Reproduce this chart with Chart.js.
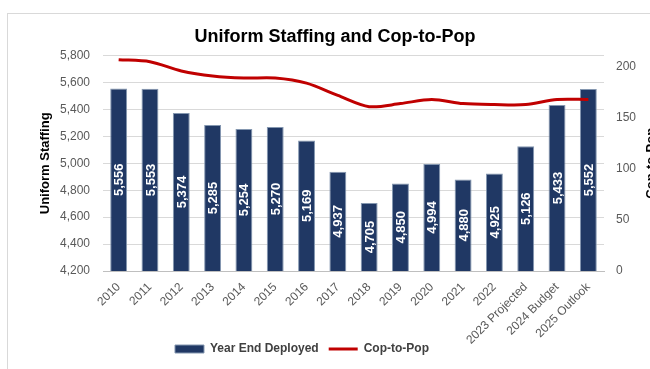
<!DOCTYPE html>
<html>
<head>
<meta charset="utf-8">
<script src="https://cdn.jsdelivr.net/npm/chart.js@4"></script>
<style>
    html, body { margin: 0; padding: 0; background: #fff; overflow: hidden; width: 650px; height: 369px; }
    #frame { position: absolute; left: 7px; top: 13px; width: 700px; height: 400px; border: 1px solid #d9d9d9; }
    #staffingChart { position: absolute; left: 0; top: 0; }
</style>
</head>
<body>
<div id="frame"></div>
<canvas id="staffingChart" width="660" height="369"></canvas>
<script>
// Chart data
const years = ['2010', '2011', '2012', '2013', '2014', '2015', '2016', '2017', '2018',
    '2019', '2020', '2021', '2022', '2023 Projected', '2024 Budget', '2025 Outlook'];
const yearEndDeployed = [5556, 5553, 5374, 5285, 5254, 5270, 5169, 4937, 4705,
    4850, 4994, 4880, 4925, 5126, 5433, 5552];
const copToPop = [207, 205, 196, 191, 189, 189, 184, 172, 161,
    164, 168, 164, 163, 163, 168, 168];
const staffingTicks = [4200, 4400, 4600, 4800, 5000, 5200, 5400, 5600, 5800];
const ratioTicks = [0, 50, 100, 150, 200];

const FONT = 'Liberation Sans';
const GREY = '#595959';

// Format numbers with thousands separator
function formatNumber(n) {
    return n.toLocaleString('en-US');
}

// Draw the value inside each bar, rotated
const barValueLabels = {
    id: 'barValueLabels',
    afterDatasetsDraw(chart) {
        const ctx = chart.ctx;
        const meta = chart.getDatasetMeta(0);
        const bottom = chart.chartArea.bottom;
        ctx.save();
        ctx.fillStyle = '#ffffff';
        ctx.font = 'bold 13px ' + FONT;
        ctx.textAlign = 'center';
        ctx.textBaseline = 'middle';
        meta.data.forEach((bar, i) => {
            const mid = (bar.y + Math.min(bar.base, bottom)) / 2;
            ctx.save();
            ctx.translate(bar.x, mid);
            ctx.rotate(-Math.PI / 2);
            ctx.fillText(formatNumber(yearEndDeployed[i]), 0, 1);
            ctx.restore();
        });
        ctx.restore();
    }
};

// Secondary axis title reads bottom-to-top like the primary one
const rightAxisTitle = {
    id: 'rightAxisTitle',
    afterDraw(chart) {
        const ctx = chart.ctx;
        const area = chart.chartArea;
        ctx.save();
        ctx.fillStyle = '#000000';
        ctx.font = 'bold 13px ' + FONT;
        ctx.textAlign = 'center';
        ctx.textBaseline = 'middle';
        ctx.translate(chart.scales.y1.right - 9, (area.top + area.bottom) / 2);
        ctx.rotate(-Math.PI / 2);
        ctx.fillText('Cop-to-Pop', 0, 0);
        ctx.restore();
    }
};

// Legend sits a bit left of centre; long category labels may run into the legend band
const layoutTweaks = {
    id: 'layoutTweaks',
    afterLayout(chart) {
        chart.legend.left -= 33;
        chart.legend.right -= 33;
        chart.scales.x.bottom += 30;
    }
};

const data = {
    labels: years,
    datasets: [
        {
            type: 'bar',
            label: 'Year End Deployed',
            data: yearEndDeployed,
            backgroundColor: '#203864',
            borderColor: '#8497b0',
            borderWidth: 1,
            borderSkipped: 'bottom',
            barPercentage: 0.54,
            categoryPercentage: 1,
            pointStyle: 'rect',
            yAxisID: 'y',
            order: 2
        },
        {
            type: 'line',
            label: 'Cop-to-Pop',
            data: copToPop,
            borderColor: '#c00000',
            backgroundColor: '#c00000',
            borderWidth: 3,
            pointRadius: 0,
            pointStyle: 'line',
            tension: 0.3,
            fill: false,
            yAxisID: 'y1',
            order: 1
        }
    ]
};

const config = {
    data: data,
    plugins: [barValueLabels, rightAxisTitle, layoutTweaks],
    options: {
        responsive: false,
        animation: false,
        layout: {
            padding: { top: 14, left: 10, right: 0, bottom: 4 }
        },
        plugins: {
            title: {
                display: true,
                text: 'Uniform Staffing and Cop-to-Pop',
                color: '#000000',
                font: { family: FONT, size: 18, weight: 'bold' },
                padding: { top: 12, bottom: 8 }
            },
            legend: {
                position: 'bottom',
                labels: {
                    usePointStyle: true,
                    pointStyleWidth: 29,
                    boxHeight: 8,
                    padding: 10,
                    color: '#404040',
                    font: { family: FONT, size: 12, weight: 'bold' },
                    sort: (a, b) => a.datasetIndex - b.datasetIndex
                }
            },
            tooltip: { enabled: false }
        },
        scales: {
            x: {
                grid: { display: false, drawTicks: false },
                border: { color: '#bfbfbf', width: 1 },
                ticks: {
                    autoSkip: false,
                    minRotation: 45,
                    maxRotation: 45,
                    padding: 9,
                    color: GREY,
                    font: { family: FONT, size: 12 }
                },
                afterFit(scale) { scale.height = 62; }
            },
            y: {
                position: 'left',
                min: 4200,
                max: 5800,
                grid: { color: '#d9d9d9', drawTicks: false },
                border: { display: false },
                afterBuildTicks(scale) {
                    scale.ticks = staffingTicks.map(v => ({ value: v }));
                },
                ticks: {
                    padding: 13,
                    color: GREY,
                    font: { family: FONT, size: 12 },
                    callback: v => formatNumber(v)
                },
                title: {
                    display: true,
                    text: 'Uniform Staffing',
                    color: '#000000',
                    font: { family: FONT, size: 13, weight: 'bold' },
                    padding: { top: 28 }
                },
                afterFit(scale) { scale.width = 93; }
            },
            y1: {
                position: 'right',
                min: 0,
                max: 211,
                grid: { display: false, drawTicks: false },
                border: { display: false },
                afterBuildTicks(scale) {
                    scale.ticks = ratioTicks.map(v => ({ value: v }));
                },
                ticks: {
                    padding: 12,
                    color: GREY,
                    font: { family: FONT, size: 12 }
                },
                afterFit(scale) { scale.width = 56; }
            }
        }
    }
};

document.addEventListener('DOMContentLoaded', function() {
    const ctx = document.getElementById('staffingChart').getContext('2d');
    new Chart(ctx, config);
});
</script>
</body>
</html>
